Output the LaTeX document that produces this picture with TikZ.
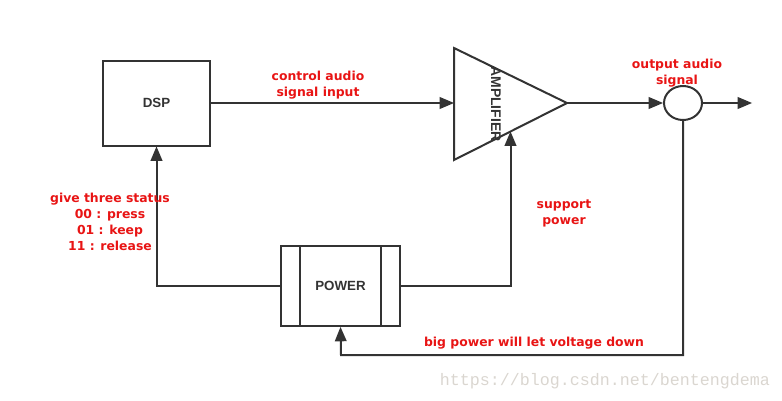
\documentclass[tikz,border=0pt]{standalone}
\usepackage{fontspec}
\setmainfont{Liberation Sans}
\setmonofont{Liberation Mono}
\newfontfamily\notefont{DejaVu Sans}
\usepackage{tikz}
\usetikzlibrary{calc}
\usetikzlibrary{arrows}
\usetikzlibrary{shapes.geometric}
\definecolor{linegray}{RGB}{51, 51, 51}
\definecolor{notered}{RGB}{232, 20, 20}
\definecolor{markgray}{RGB}{218, 214, 208}

\begin{document}
\begin{tikzpicture}[x=0.75pt, y=-0.75pt, >=triangle 45,
    blockbox/.style={draw=linegray, line width=1.5pt, minimum width=80.25pt, minimum height=63.75pt,
                     text=linegray, font=\bfseries\fontsize{10}{11}\selectfont},
    wire/.style={draw=linegray, line width=1.5pt},
    note/.style={text=notered, align=center, font=\notefont\bfseries\fontsize{9.3}{12}\selectfont}]
            % Frame to ensure alignment:
            \useasboundingbox                                          (  0,   0) rectangle (782, 400);
            \node[blockbox]                                    (dsp)   at (156.5, 103) {DSP};
            \node[blockbox, minimum width=89.25pt, minimum height=60pt] (pwr) at (340.5, 286) {POWER};
            \draw[wire] ($(pwr.north west)+(15pt,0)$) -- ($(pwr.south west)+(15pt,0)$);
            \draw[wire] ($(pwr.north east)+(-15pt,0)$) -- ($(pwr.south east)+(-15pt,0)$);
            % amplifier triangle
            \coordinate (ampTop) at (454,  48);
            \coordinate (ampBot) at (454, 160);
            \coordinate (ampTip) at (567, 103);
            \coordinate (ampIn)  at (454, 103);
            \coordinate (ampLow) at ($(ampBot)!0.5!(ampTip)$);
            \draw[wire, line join=miter] (ampTop) -- (ampTip) -- (ampBot) -- cycle;
            \node[rotate=-90, text=linegray, font=\bfseries\fontsize{10.5}{11}\selectfont] (ampText) at (496, 104) {AMPLIFIER};
            \node[ellipse, draw=linegray, line width=1.5pt, minimum width=28.5pt, minimum height=25.5pt] (out) at (683, 103) {};
            \coordinate (outEnd) at (752, 103);
            % connectors
            \draw[wire, ->] (dsp.east)  -- (ampIn);
            \draw[wire, ->] (ampTip)    -- (out.west);
            \draw[wire, ->] (out.east)  -- (outEnd);
            \draw[wire, ->] (pwr.west)  -| (dsp.south);
            \draw[wire, ->] (pwr.east)  -| (ampLow);
            \draw[wire, ->] (out.south) |- (341, 355) -- (pwr.south);
            % labels
            \node[note] (ctrlNote)   at (318,  85) {control audio\\signal input};
            \node[note] (outNote)    at (677,  73) {output audio\\signal};
            \node[note] (statusNote) at (110, 222) {give three status\\00 : press\\01 : keep\\11 : release};
            \node[note] (supNote)    at (564, 213) {support\\power};
            \node[note] (dropNote)   at (534, 343) {big power will let voltage down};
            \node[text=markgray, font=\ttfamily\fontsize{12.5}{14}\selectfont] (mark) at (605, 381) {https://blog.csdn.net/bentengdema};
        \end{tikzpicture}
\end{document}
